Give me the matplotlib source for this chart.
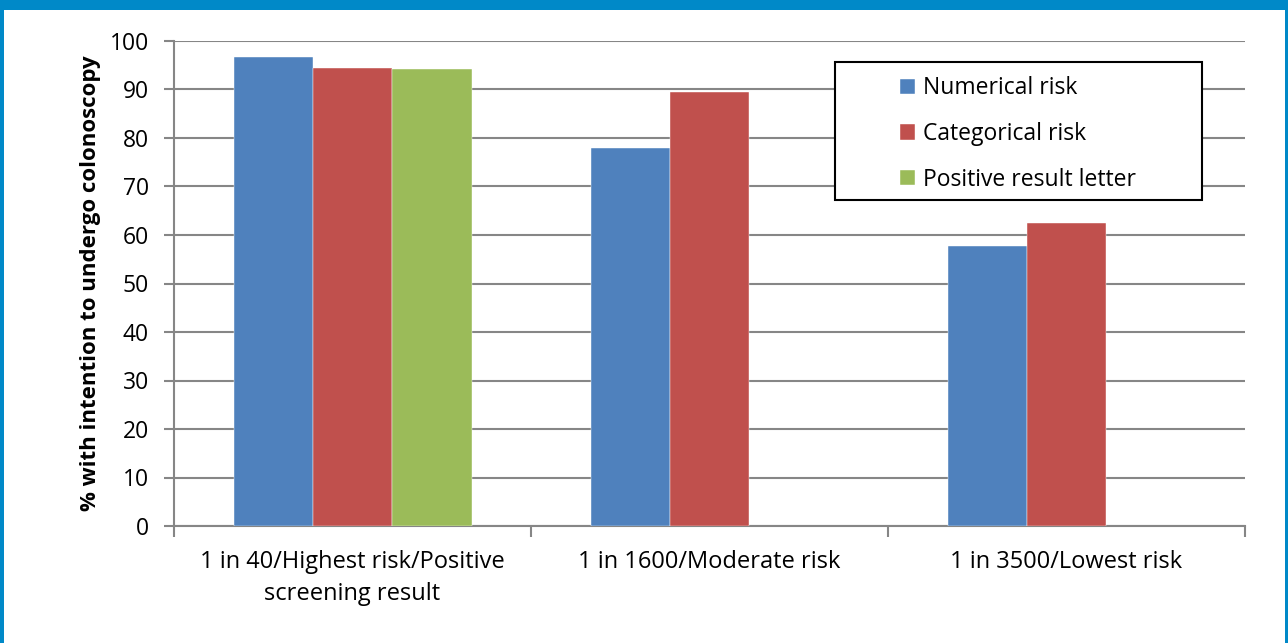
import matplotlib
matplotlib.use("Agg")
import matplotlib.pyplot as plt
import numpy as np
from matplotlib.patches import Rectangle

categories = ["1 in 40/Highest risk/Positive\nscreening result", "1 in 1600/Moderate risk", "1 in 3500/Lowest risk"]
series_names = ["Numerical risk", "Categorical risk", "Positive result letter"]
numerical = [96.8, 78.0, 57.8]
categorical = [94.4, 89.4, 62.4]
letter = [94.2, np.nan, np.nan]
colors = ["#4F81BD", "#C0504D", "#9BBB59"]
yticks = list(range(0, 101, 10))

plt.rcParams['font.family'] = ['Open Sans', 'DejaVu Sans']

W, H = 1288, 643
fig = plt.figure(figsize=(W / 100, H / 100), dpi=100)

def fig_rect(x0, y0, w, h, **kw):
    r = Rectangle((x0 / W, 1 - (y0 + h) / H), w / W, h / H, transform=fig.transFigure, **kw)
    fig.patches.append(r)
    return r

# blue frame
fig_rect(0, 0, W, 10, facecolor='#0089C8', edgecolor='none', zorder=10)
fig_rect(0, 0, 4, H, facecolor='#0089C8', edgecolor='none', zorder=10)
fig_rect(1285, 0, 3, H, facecolor='#0089C8', edgecolor='none', zorder=10)

ax = fig.add_axes([174 / W, 1 - 526 / H, (1245 - 174) / W, (526 - 41) / H])
n = len(categories)
x = np.arange(n)
bw = 1 / 4.5
for i, (vals, name) in enumerate(zip([numerical, categorical, letter], series_names)):
    ax.bar(x + (i - 1) * bw, vals, width=bw, color=colors[i], label=name, zorder=3,
           edgecolor='white', linewidth=0.3)

ax.set_xlim(-0.5, n - 0.5)
ax.set_ylim(0, 100)
ax.set_yticks(yticks)
ax.tick_params(axis='y', labelsize=16.5, length=7, width=1.5, color='#868686', pad=11)
ax.set_xticks([-0.5, 0.5, 1.5, 2.5])
ax.set_xticklabels([])
ax.set_xticks(x, minor=True)
ax.set_xticklabels(categories, minor=True, fontsize=17, linespacing=1.45)
ax.tick_params(axis='x', which='major', length=8, width=1.5, color='#868686')
ax.tick_params(axis='x', which='minor', length=0, pad=17)
ax.grid(axis='y', color='#868686', linewidth=1.5, zorder=0)
for s in ['top', 'right']:
    ax.spines[s].set_visible(False)
for s in ['left', 'bottom']:
    ax.spines[s].set_color('#868686')
    ax.spines[s].set_linewidth(1.5)
ax.set_ylabel('% with intention to undergo colonoscopy', fontsize=16, fontweight='bold', labelpad=6)

# legend box
fig_rect(835, 62, 1202 - 835, 200 - 62, facecolor='white', edgecolor='black', linewidth=1.5, zorder=4)
leg = ax.legend(loc='center left', bbox_to_anchor=(900 / W, 1 - 134 / H), bbox_transform=fig.transFigure,
                fontsize=16.5, frameon=False, handlelength=0.65, handleheight=0.65,
                labelspacing=0.95, borderpad=0, handletextpad=0.35, borderaxespad=0)
leg.remove()
fig.add_artist(leg)
leg.set_zorder(6)

fig.savefig('out.png', dpi=100)
